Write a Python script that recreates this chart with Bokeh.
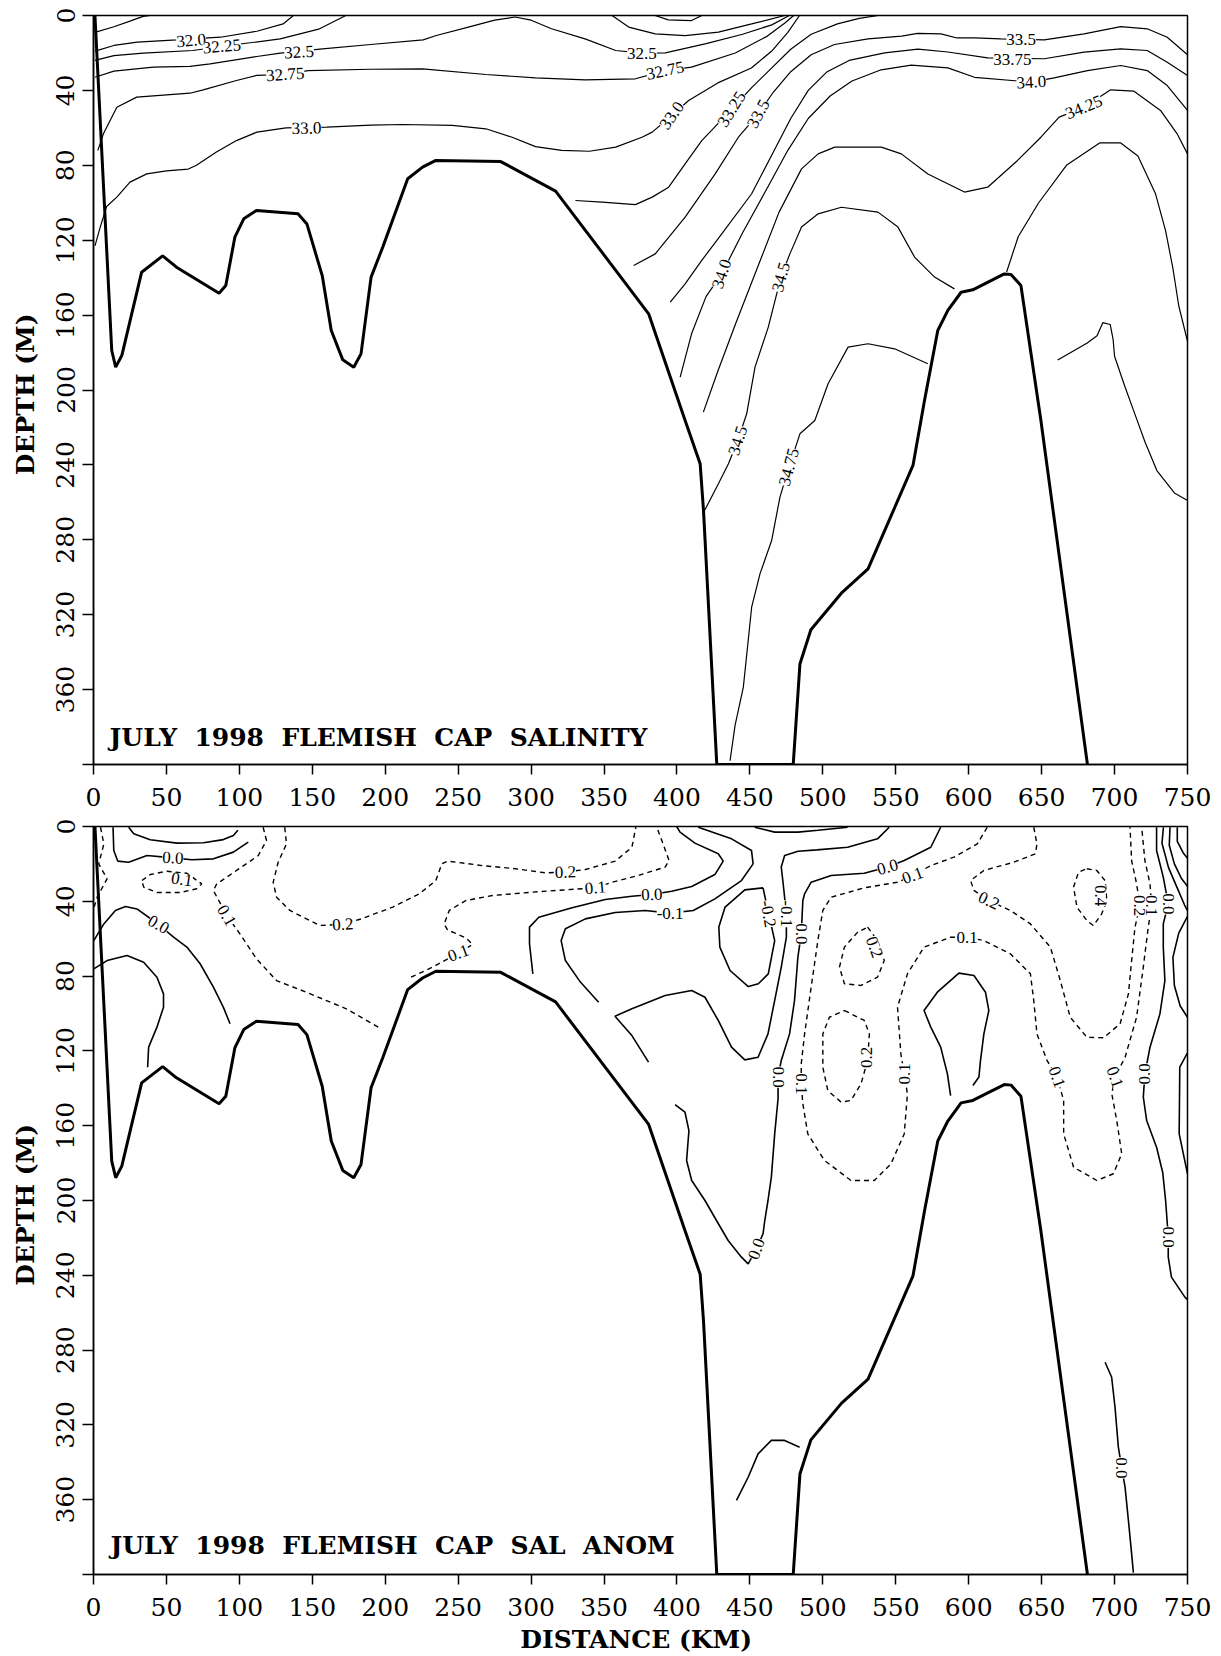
from bokeh.plotting import figure
from bokeh.layouts import column
from bokeh.models import Range1d, FixedTicker, Label, LabelSet, ColumnDataSource
from bokeh.embed import file_html
from bokeh.resources import INLINE

FONT = "DejaVu Serif"

# ---------------- data (distance km, depth m) ----------------
x_ticks = [0, 50, 100, 150, 200, 250, 300, 350, 400, 450, 500, 550, 600, 650, 700, 750]
depth_ticks = [0, 40, 80, 120, 160, 200, 240, 280, 320, 360, 400]

bathymetry = [(1, 0), (12.5, 178.9), (15.2, 187.8), (19.4, 181.6), (26.2, 159.3), (33.0, 137.1),
              (47.4, 128.4), (56.9, 134.4), (86.1, 148.3), (90.7, 144.2), (96.9, 118.4), (103.0, 108.6),
              (111.7, 104.1), (140.2, 105.9), (146.3, 111.3), (156.8, 138.9), (163.0, 168.2),
              (170.9, 183.9), (178.4, 187.8), (183.4, 180.7), (190.3, 139.7), (198.3, 123.7),
              (215.4, 87.2), (225.6, 81.0), (234.7, 77.4), (279.2, 78.0), (316.8, 93.8), (380.6, 159.3),
              (405.6, 216.3), (415.9, 239.4), (418.2, 264.4), (427.3, 400), (479.7, 400), (484.3, 346.3),
              (491.8, 328.0), (512.7, 308.5), (531.0, 295.5), (561.8, 240.3), (569.7, 205.6),
              (578.8, 168.2), (585.7, 157.5), (594.8, 147.8), (602.8, 146.5), (624.4, 138.0),
              (629.0, 138.3), (635.8, 144.2), (649.5, 216.3), (681.4, 400)]

# salinity isolines
sal_3175 = [(1, 9), (14, 6), (25, 3), (34, 0.5), (39, 0)]
sal_3200 = [(1, 19), (14, 16), (30, 14.2), (57, 13), (87, 11.6), (112, 8.4), (130, 4.5), (137, 0)]
sal_3225 = [(1, 24), (14, 21.4), (34, 20.1), (68, 18.7), (102, 15.1), (128, 12.5), (155, 7.1), (173, 0)]
sal_3225_b = [(355.5, 0), (366.9, 6.2), (385.1, 9.8), (405.6, 10.7), (428.4, 8.9), (451.2, 4.5), (474, 0)]
sal_3200_b = [(385, 0), (394, 2.3), (410, 2.7), (417, 0)]
sal_3250 = [(1, 33), (14, 29.7), (41, 27.6), (66, 27.2), (80, 25.8), (112, 21.9), (128, 20.1), (157, 17.8),
            (190, 15.5), (226, 13), (235, 10.7), (257, 6.2), (275, 2.5), (289, 0.8), (300, 2.5),
            (314, 7.1), (337, 12.5), (358, 18.7), (376, 20.1), (392, 20), (420, 15), (445, 10),
            (465, 5), (477, 0)]
sal_3275 = [(3, 72), (6.8, 63.2), (16, 49), (29.6, 43.6), (66.1, 41.5), (75.2, 39.7), (98, 34.7),
            (111.7, 32.0), (131.5, 31.5), (147, 29.4), (190, 28.7), (225.6, 28.5), (269, 31.5),
            (303, 33.3), (337, 34.4), (371.5, 33.8), (392, 29.4), (410, 27.6), (440, 20), (462, 11),
            (474, 4), (480, 0)]
sal_3300 = [(1, 123), (4.6, 113), (9, 102), (16, 97), (25, 89), (36.5, 84.6), (50, 83), (65, 82),
            (70.6, 80), (84, 73), (98, 66.8), (112, 62.3), (132, 60), (160, 59.6), (190, 58.5),
            (212, 58.2), (246, 58.7), (269, 60.5), (287, 65), (303, 70), (321, 72), (340, 72.5),
            (358, 70.3), (376, 65), (383, 62.3), (396.5, 53.4), (408, 45.4), (428, 36), (451, 28),
            (465, 19), (476, 9), (484, 0)]
sal_3325 = [(330.4, 98.8), (348.7, 99.7), (371.5, 101), (383, 97), (394.3, 91.7), (405.6, 79.2),
            (417, 66.8), (437.6, 50), (451.2, 38.5), (465, 28), (478, 18), (492, 10), (510, 4.5),
            (525, 1.5), (538, 0)]
sal_3350 = [(370.3, 133.5), (385.1, 127.3), (405.6, 107.7), (426.2, 84.6), (442.1, 65), (455.8, 52.5),
            (466, 41), (478, 30), (492, 21), (508, 15.5), (531, 12.5), (554, 11), (565, 9.5),
            (581, 9.8), (592, 12), (604, 12), (622, 12.5), (651.8, 13), (679.1, 9.8), (704.2, 5.9),
            (722.4, 7.1), (736.1, 11.6), (750, 21)]
sal_3375 = [(395.4, 153.1), (405.6, 143.3), (417, 130.8), (430.7, 116.6), (451.2, 95.2), (466, 73),
            (478, 55), (490, 40), (503, 30), (518, 24), (542.4, 20), (565.2, 18), (585.7, 19.5),
            (613, 22.6), (651.8, 23.1), (679.1, 19.6), (704.2, 17.8), (722.4, 18.7), (736.1, 25),
            (750, 32)]
sal_3400 = [(402.2, 193.1), (410, 170), (420, 150), (430.7, 138), (445, 116), (462, 92), (476, 72),
            (490, 55), (505, 43), (520, 35), (540, 29), (560.6, 26.5), (585.7, 28), (604, 33),
            (643, 35.6), (658.6, 33.3), (681.4, 29.4), (704.2, 26.7), (722.4, 29.4), (736.1, 37.4),
            (750, 50.7)]
sal_3425 = [(418.1, 211.8), (428, 190), (440, 165), (455, 135), (470, 105), (485.4, 81.9), (496.8, 73.9),
            (508.2, 70.3), (540.1, 70.3), (553.8, 73.9), (572, 84.6), (597.1, 94.3), (613, 91.7),
            (633.5, 77.4), (649.5, 65), (662, 54.3), (679.1, 49), (697.3, 39.7), (713.3, 40.4),
            (731.5, 50.7), (742.9, 63.2), (750, 73.9)]
sal_3450 = [(418.9, 264.4), (428.4, 250.1), (435.3, 239.4), (441.7, 227), (447.8, 212.7), (453.5, 187.8),
            (462.6, 166.4), (471.3, 139.7), (477.4, 127.3), (485.4, 113), (496.8, 105.9), (512.7, 102.4),
            (537.8, 105), (551.5, 113), (562.9, 129), (576.6, 139.7), (590.2, 146)]
sal_3450_b = [(626, 137), (634, 118), (648, 100), (667, 80), (690, 68), (704, 68), (716, 75), (728, 95),
              (735, 115), (740, 135), (744, 155), (750, 174)]
sal_3475 = [(436.4, 398), (439.8, 379.2), (445.5, 358.7), (451.2, 316), (456.9, 298.2), (464.9, 280.4),
            (470.6, 257.2), (476.8, 241.2), (484.3, 223.4), (494.5, 216.3), (503.6, 196.7),
            (517.3, 177.1), (531, 175.3), (549.2, 178), (572, 186)]
sal_3475_b = [(661, 184), (681, 175), (688, 171), (692, 164), (697, 165), (699, 173), (700, 182),
              (707, 198), (714, 213), (721, 228), (729, 243), (741, 255), (750, 259)]

sal_labels_x = [67, 88, 141, 376, 131.5, 392, 146, 396.5, 437.6, 455.8, 636, 630, 430.7, 643, 679, 471.3, 441.7, 476.8]
sal_labels_d = [13.4, 16.5, 19.6, 20.1, 31.5, 29.4, 60.2, 53.4, 50, 52.5, 12.8, 23.7, 138, 35.6, 49, 139.7, 227, 241.2]
sal_labels_t = ["32.0", "32.25", "32.5", "32.5", "32.75", "32.75", "33.0", "33.0", "33.25", "33.5",
                "33.5", "33.75", "34.0", "34.0", "34.25", "34.5", "34.5", "34.75"]
sal_labels_a = [5, 5, 3, 0, 4, 12, 1, 55, 58, 62, 0, 0, 72, 3, 22, 75, 72, 75]

# salinity anomaly isolines: positive (dashed)
anom_pos_1 = [(4.8, 0.4), (7.1, 9.3), (3.6, 20), (9.3, 28), (2.5, 37.8), (0.5, 43)]
anom_pos_2 = [(33.2, 28.9), (38.9, 25.7), (50.3, 23.9), (64, 25), (74.2, 30.7), (70.8, 33.3), (59.4, 35.3),
              (43.5, 35.3), (34.4, 32.4), (33.2, 28.9)]
anom_pos_3 = [(116.3, 0.4), (118.6, 7.5), (113, 15.5), (98.1, 23.5), (84.5, 30.7), (82.2, 34.2), (91.3, 47.6),
              (100.4, 57.4), (111.8, 70.8), (125.5, 82.4), (145.9, 88.6), (173.3, 97.5), (197.2, 108.2)]
anom_pos_4 = [(131.1, 0.4), (132.3, 9.3), (126.6, 19.1), (123.2, 29.8), (125.5, 37.8), (134.6, 44.9),
              (155.1, 52.9), (171, 52.4), (183.5, 49.4), (205.2, 43.1), (223.4, 36), (234.7, 28.9),
              (238.8, 20), (242.7, 18.5), (266.6, 20.9), (289.4, 22.6), (309.9, 24.8), (323.5, 24.4),
              (337.2, 23), (357.7, 18.5), (369.1, 11.1), (371.8, 0.4)]
anom_pos_5 = [(217.7, 80.6), (232.5, 75.2), (250.2, 67.7), (259.8, 63.1), (255.2, 59.5), (242.7, 55.3),
              (240.4, 52.1), (243.9, 44.9), (255.2, 39.6), (273.5, 36.9), (300.8, 35.1), (344, 32.8),
              (355.4, 29.8), (373.6, 26.2), (391.9, 21.7), (394.6, 18.2), (389.6, 7.5), (386.2, 0.4)]
anom_pos_6 = [(612.7, 0.4), (605.9, 9.3), (589.9, 16.4), (574, 20.9), (561.5, 26.2), (551.2, 29.8),
              (528.4, 32.8), (505.7, 37.8), (500, 44.9), (496.6, 61), (492, 85.9), (487.5, 110.9),
              (485.2, 126.9), (485.2, 137.6), (486.3, 148.3), (489.7, 164.4), (501.1, 178.6),
              (519.3, 189.3), (535.3, 189.3), (546.7, 180.4), (555.8, 164.4), (558, 143), (555.8, 132.3),
              (553.5, 121.6), (551.2, 96.6), (558, 78.8), (569.4, 64.5), (587.6, 59.2), (599, 59.2),
              (610.4, 61), (628.6, 68.1), (642.3, 78.8), (644.6, 93), (646.8, 110.9), (653.7, 125.1),
              (660.5, 134), (665.1, 146.5), (665.1, 164.4), (671.9, 182.2), (687.8, 189.3),
              (699.2, 185.7), (704.9, 175), (701.5, 157.2), (698.1, 143), (700.3, 134), (707.2, 123.4),
              (715.1, 102), (719.7, 75.2), (723.1, 53.8), (725.4, 42.3), (724.3, 30.7), (720.8, 18.2),
              (718.6, 0.4)]
anom_pos_7 = [(644.6, 0.4), (646.8, 9.3), (645.7, 14.6), (630.9, 19.1), (610.4, 23.5), (601.3, 28.9),
              (603.6, 34.2), (613.8, 39.6), (628.6, 44.9), (642.3, 52.1), (656, 64.5), (662.8, 82.4),
              (669.6, 102), (681, 112.7), (692.4, 113), (703.8, 105.5), (709.5, 89.5), (711.7, 71.7),
              (714, 53.8), (717.4, 42.3), (715.1, 30.7), (711.7, 18.2), (710.6, 0.4)]
anom_pos_8 = [(681, 22.6), (687.8, 23.5), (693.5, 28.9), (694.7, 39.6), (691.2, 46.7), (685.5, 53),
              (681, 50.3), (674.2, 43.1), (671.9, 32.4), (675.3, 24.4), (681, 22.6)]
anom_pos_9 = [(530.7, 53.8), (537.5, 61), (542.1, 71.7), (537.5, 80.6), (526.2, 85), (514.8, 84.1),
              (511.4, 75.2), (514.8, 64.5), (523.9, 56.5), (530.7, 53.8)]
anom_pos_10 = [(514.8, 98.4), (528.4, 103.7), (531.9, 110.9), (530.7, 125.1), (526.2, 137.6),
               (519.3, 146.5), (512.5, 147.4), (503.4, 141.2), (500, 128.7), (500, 110.9), (504.5, 102),
               (514.8, 98.4)]

# zero and negative (solid)
anom_neg_1 = [(13.4, 0.4), (13.9, 12.8), (16.6, 18.5), (24.1, 19.1), (36.7, 15.5), (54.4, 16.8), (67.4, 17.8),
              (82.2, 17.3), (95.9, 13.7), (106.1, 8.4)]
anom_neg_2 = [(24.1, 0.4), (27.6, 3.9), (38.9, 7.1), (57.2, 8.9), (75.4, 8.7), (89, 7), (95.9, 4.8), (99, 2)]
anom_neg_3 = [(0.2, 61), (7.1, 52.1), (15, 44.9), (21.9, 42.8), (29.8, 44.1), (44.6, 52.4), (54.9, 59.2),
              (64, 64.5), (73.1, 73.4), (82.2, 85.9), (89, 96.6), (93.6, 105.5)]
anom_neg_4 = [(0.2, 76.1), (9.3, 71.7), (23, 69), (34.4, 72.6), (43.5, 80.6), (48, 89.5), (48, 96.6),
              (43.5, 107.3), (37.8, 118), (37.1, 128.7)]
anom_neg_5 = [(301.2, 78.8), (298.9, 62.7), (298.9, 53.8), (305.3, 48.5), (328.1, 43.5), (350.9, 39),
              (369.1, 37.3), (382.7, 36.4), (396.4, 34.6), (410.1, 32.1), (426, 25.7), (431.7, 18.5),
              (428.3, 14.6), (412.3, 8.9), (402.1, 3), (399.8, 0)]
anom_neg_6 = [(346.3, 94), (333.8, 83.2), (323.5, 71.7), (320.6, 61), (323.5, 54.7), (337.2, 49.4),
              (357.7, 46), (378.2, 44.9), (395.3, 46.3), (411.2, 44.9), (426, 38.7), (444.2, 28.9),
              (452.2, 20), (451.1, 12.8), (437.4, 6.6), (414.6, 0.4)]
anom_neg_7 = [(459, 32.8), (446.5, 33.9), (433, 43.1), (428.7, 53.8), (429.4, 64.5), (436.4, 77),
              (448.9, 85.6), (455.8, 84.1), (462.6, 78.8), (467, 61), (462.6, 45.8), (459, 32.8)]
anom_neg_8 = [(380.5, 126), (369.1, 111.8), (357.5, 101.5), (369.1, 97.5), (391.9, 90.4), (410.1, 87.7),
              (419.2, 91.3), (428.3, 103.7), (437.4, 118), (446.5, 124.8), (455.6, 123.4), (462.4, 110.9),
              (467, 93), (471.5, 75.2), (475, 59.2), (475, 46.7), (472.7, 29.8), (471.5, 21.7),
              (473.8, 15.5), (483, 13.2), (496, 12.5), (517, 11.1), (537.5, 6.6), (545.5, 0.4)]
anom_neg_9 = [(398.7, 148.7), (405.5, 152.8), (408.2, 162.6), (406.6, 178.6), (410.1, 189.3), (419.2, 200),
              (427.1, 210.7), (435.1, 221.4), (444.2, 230.3), (448.8, 233.9), (454.5, 225.9), (459, 217.8),
              (460.2, 210.7), (462.4, 200), (464.7, 187.5), (467, 164.4), (469.3, 145.6), (469.3, 134),
              (471.5, 125.1), (477.2, 110.9), (480.6, 93), (482.9, 69.9), (485.2, 57.4), (486.3, 39.6),
              (487.5, 36), (492, 29.8), (505.7, 26.2), (528.4, 25), (544.4, 21.7), (555.8, 18.2),
              (574, 11.1), (580.8, 0.4)]
anom_neg_10 = [(453.3, 0.4), (467, 3), (483, 3), (496.6, 2), (517, 0.4)]
anom_neg_11 = [(587.6, 143.9), (585.4, 132.3), (580.8, 118), (574, 107.3), (569.4, 98.4), (578.5, 88.6),
               (593.3, 78.4), (603.6, 79.7), (611.5, 88.6), (613.8, 98.4), (610.4, 110.9), (608.1, 125.1),
               (607, 134), (602.9, 138.5)]
anom_neg_12 = [(728.8, 0.4), (728.8, 12.8), (733.4, 27.1), (736.8, 41.4), (733.4, 52.1), (733.4, 64.5),
               (734.5, 82.4), (731.1, 100.2), (724.3, 118), (720.8, 132.3), (719.7, 144.7), (722, 157.2),
               (728.8, 171.5), (733, 185), (735, 200), (736, 210.7), (736.8, 219.6), (736.8, 230.3),
               (739, 241), (748.2, 251.7), (750, 253)]
anom_neg_13 = [(733.5, 0.4), (732.5, 9), (737, 22), (742.5, 32), (748, 42), (750, 45)]
anom_neg_14 = [(738, 0.4), (737.5, 10), (741, 20), (746, 28), (750, 32)]
anom_neg_15 = [(743, 0.4), (743, 8), (747, 14), (750, 17)]
anom_neg_16 = [(750, 48), (744, 57), (740, 70), (741, 85), (745, 96), (750, 102)]
anom_neg_17 = [(750, 121), (744.7, 128.7), (744.3, 164.4), (750, 185.7)]
anom_neg_18 = [(693.5, 286.5), (698, 294.5), (700.3, 310.5), (702.6, 331.9), (704.9, 343), (707.2, 353.3),
               (709.5, 371.1), (711.7, 389), (712.9, 399)]
anom_neg_19 = [(440.8, 360.4), (448.8, 348), (455.6, 335.5), (464.7, 328.3), (473.8, 328.3), (484.1, 331.9)]

anom_labels_x = [54.4, 60.6, 44.6, 91.3, 171, 323.5, 250.2, 344, 382.7, 395.3, 462.6, 475, 454.5, 469.3,
                 485.2, 544.4, 561.5, 485.2, 555.8, 599, 660.5, 700.3, 725.4, 613.8, 717.4, 690.1,
                 535.3, 529.6, 736.8, 720.8, 736.8, 704.9]
anom_labels_d = [16.8, 28.3, 52.4, 47.6, 52.4, 24.4, 67.7, 32.8, 36.4, 46.3, 46.7, 46.7, 225.9, 134,
                 57.4, 21.7, 26.2, 137.6, 132.3, 59.2, 134, 134, 42.3, 39.6, 42.3, 36.9,
                 64.5, 123.4, 41.4, 132.3, 219.6, 343]
anom_labels_t = ["0.0", "0.1", "0.0", "0.1", "0.2", "0.2", "0.1", "0.1", "0.0", "-0.1", "-0.2", "-0.1",
                 "0.0", "0.0", "0.0", "0.0", "0.1", "0.1", "0.1", "0.1", "0.1", "0.1", "0.1", "0.2",
                 "0.2", "0.4", "0.2", "0.2", "0.0", "0.0", "0.0", "0.0"]
anom_labels_a = [-3, -8, -30, -60, 3, 2, 20, 5, 3, 0, -80, -90, 70, -90, -90, 15, 20, -90, 90, 0,
                 -70, -70, -90, -25, -90, -90, -70, 90, -90, 90, -90, -90]

TITLE_TOP = "JULY\u00a0\u00a01998\u00a0\u00a0FLEMISH\u00a0\u00a0CAP\u00a0\u00a0SALINITY"
TITLE_BOT = "JULY\u00a0\u00a01998\u00a0\u00a0FLEMISH\u00a0\u00a0CAP\u00a0\u00a0SAL\u00a0\u00a0ANOM"


def xs_ys(lines):
    return [[p[0] for p in ln] for ln in lines], [[p[1] for p in ln] for ln in lines]


def make_fig(height, border_left, border_right, border_top, border_bottom, show_xlabel):
    p = figure(width=1221, height=height, output_backend="svg", toolbar_location=None,
               x_range=Range1d(0, 750), y_range=Range1d(400, 0),
               min_border_left=border_left, min_border_right=border_right,
               min_border_top=border_top, min_border_bottom=border_bottom)
    p.grid.visible = False
    p.outline_line_color = "black"
    p.outline_line_width = 1.5
    p.background_fill_color = "white"
    p.border_fill_color = "white"
    xa = p.xaxis[0]
    xa.ticker = FixedTicker(ticks=x_ticks)
    xa.major_tick_out = 10
    xa.major_tick_in = 0
    xa.minor_tick_out = 0
    xa.minor_tick_in = 0
    xa.axis_line_width = 1.5
    xa.major_tick_line_width = 1.5
    xa.major_label_text_font = FONT
    xa.major_label_text_font_size = "25px"
    xa.major_label_text_color = "black"
    xa.major_label_standoff = 13
    if show_xlabel:
        xa.axis_label = "DISTANCE  (KM)"
        xa.axis_label_text_font = FONT
        xa.axis_label_text_font_style = "bold"
        xa.axis_label_text_font_size = "25px"
        xa.axis_label_text_color = "black"
        xa.axis_label_standoff = 6
    ya = p.yaxis[0]
    ya.ticker = FixedTicker(ticks=depth_ticks)
    ya.major_label_overrides = {400: ""}
    ya.major_tick_out = 11
    ya.major_tick_in = 0
    ya.minor_tick_out = 0
    ya.minor_tick_in = 0
    ya.axis_line_width = 1.5
    ya.major_tick_line_width = 1.5
    ya.major_label_orientation = "vertical"
    ya.major_label_text_font = FONT
    ya.major_label_text_font_size = "25px"
    ya.major_label_text_color = "black"
    ya.major_label_standoff = 8
    ya.axis_label = "DEPTH  (M)"
    ya.axis_label_text_font = FONT
    ya.axis_label_text_font_style = "bold"
    ya.axis_label_text_font_size = "25px"
    ya.axis_label_text_color = "black"
    ya.axis_label_standoff = 14
    return p


def add_bathy(p):
    p.line([q[0] for q in bathymetry], [q[1] for q in bathymetry], line_color="black", line_width=3)


def add_labels(p, lx, ld, lt, la):
    src = ColumnDataSource(dict(x=lx, y=ld, t=lt, a=[v * 3.14159265 / 180 for v in la]))
    p.add_layout(LabelSet(x="x", y="y", text="t", angle="a", source=src, text_font=FONT,
                          text_font_size="17px", text_color="black", text_align="center",
                          text_baseline="middle", background_fill_color="white"))


# ---------------- top: salinity ----------------
p1 = make_fig(815, 90, 34, 15, 51, False)
sal_lines = [sal_3175, sal_3200, sal_3225, sal_3225_b, sal_3200_b, sal_3250, sal_3275, sal_3300, sal_3325,
             sal_3350, sal_3375, sal_3400, sal_3425, sal_3450, sal_3450_b, sal_3475, sal_3475_b]
xs, ys = xs_ys(sal_lines)
p1.multi_line(xs, ys, line_color="black", line_width=1.2)
add_bathy(p1)
add_labels(p1, sal_labels_x, sal_labels_d, sal_labels_t, sal_labels_a)
p1.add_layout(Label(x=11, y=385.5, text=TITLE_TOP, text_font=FONT, text_font_style="bold",
                    text_font_size="25px", text_color="black", text_baseline="middle"))

# ---------------- bottom: salinity anomaly ----------------
p2 = make_fig(841, 93, 29, 11, 82, True)
pos_lines = [anom_pos_1, anom_pos_2, anom_pos_3, anom_pos_4, anom_pos_5, anom_pos_6, anom_pos_7, anom_pos_8,
             anom_pos_9, anom_pos_10]
neg_lines = [anom_neg_1, anom_neg_2, anom_neg_3, anom_neg_4, anom_neg_5, anom_neg_6, anom_neg_7, anom_neg_8,
             anom_neg_9, anom_neg_10, anom_neg_11, anom_neg_12, anom_neg_13, anom_neg_14, anom_neg_15,
             anom_neg_16, anom_neg_17, anom_neg_18, anom_neg_19]
xs, ys = xs_ys(pos_lines)
p2.multi_line(xs, ys, line_color="black", line_width=1.4, line_dash="5 4")
xs, ys = xs_ys(neg_lines)
p2.multi_line(xs, ys, line_color="black", line_width=1.6)
add_bathy(p2)
add_labels(p2, anom_labels_x, anom_labels_d, anom_labels_t, anom_labels_a)
p2.add_layout(Label(x=11.6, y=384.5, text=TITLE_BOT, text_font=FONT, text_font_style="bold",
                    text_font_size="25px", text_color="black", text_baseline="middle"))

layout = column(p1, p2, spacing=0)
open("out.html", "w").write(file_html(layout, INLINE))
